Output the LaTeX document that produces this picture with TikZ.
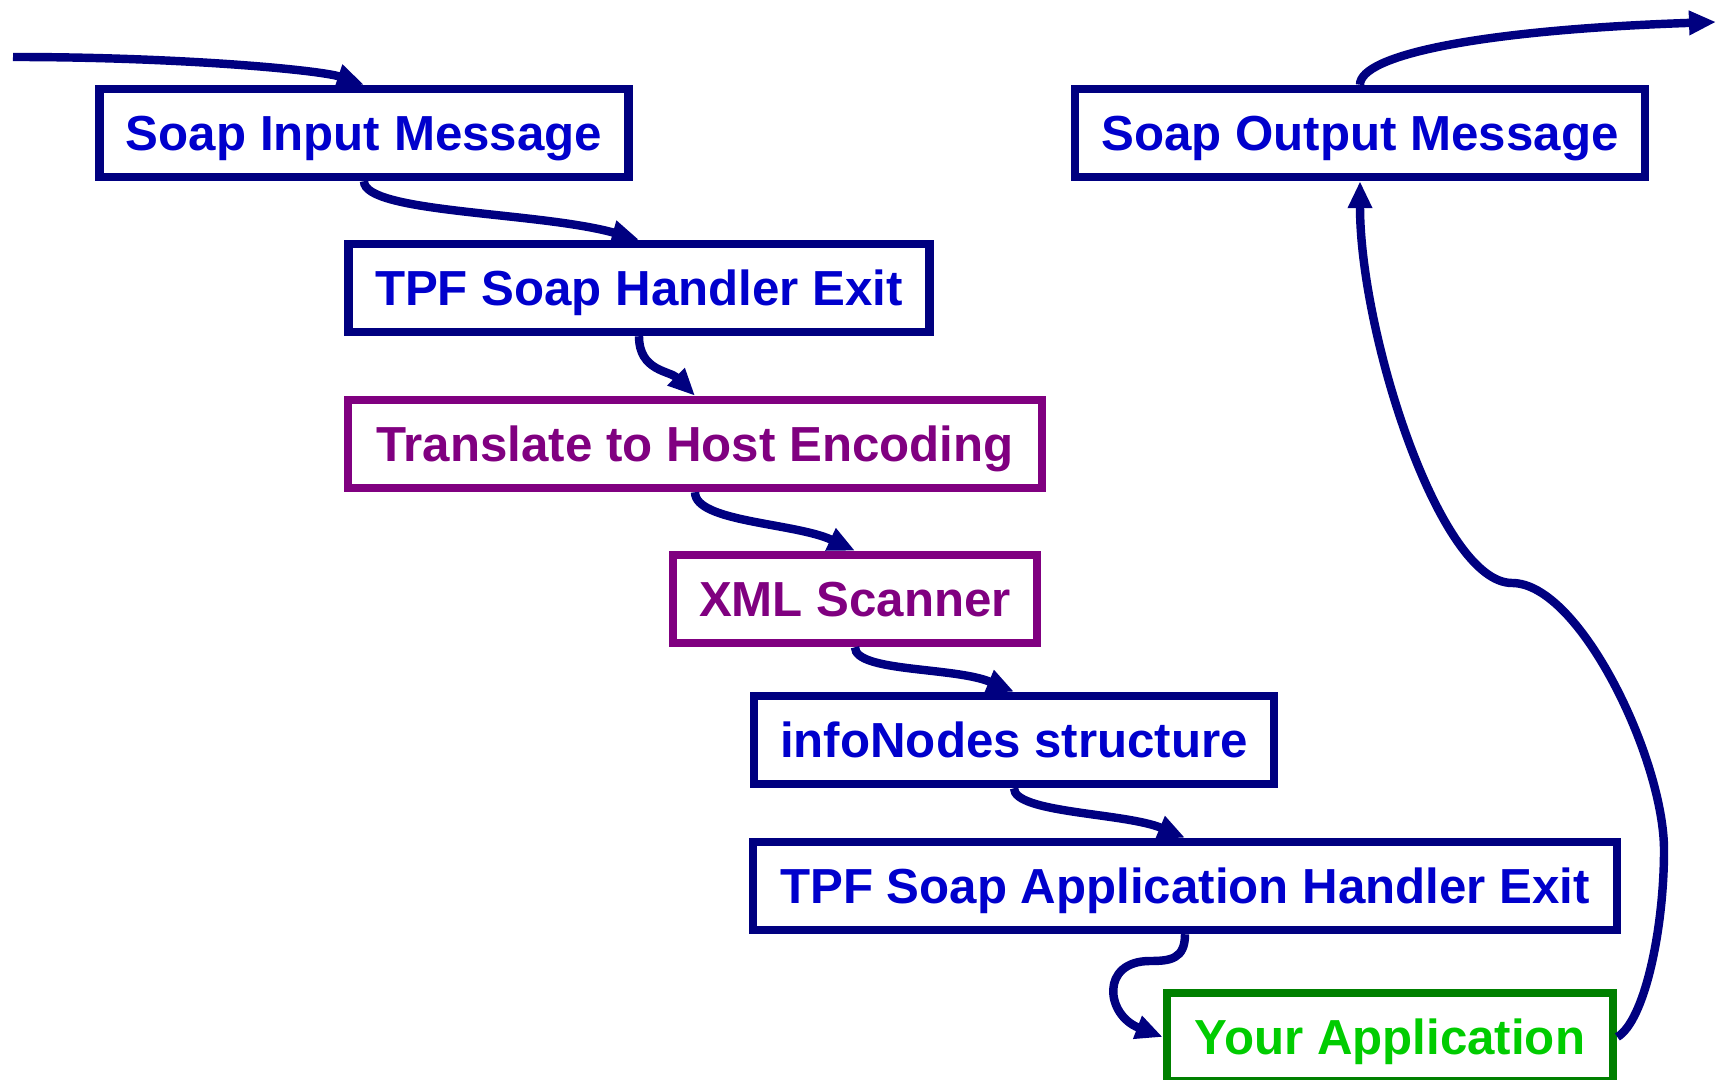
\documentclass[tikz,border=0pt]{standalone}
\usepackage{fontspec}
\setmainfont{Liberation Sans}
\usetikzlibrary{arrows.meta}

\definecolor{boxNavy}{RGB}{0,0,128}
\definecolor{textBlue}{RGB}{0,0,204}
\definecolor{hostPurple}{RGB}{128,0,128}
\definecolor{appGreen}{RGB}{0,128,0}
\definecolor{appText}{RGB}{0,204,0}

\begin{document}
\begin{tikzpicture}[x=0.01cm,y=-0.01cm,
  stepBox/.style={draw=boxNavy,line width=2.4pt,text=textBlue,minimum height=0.88cm,inner sep=0pt,text depth=0pt,font=\bfseries\fontsize{14}{16}\selectfont},
  hostBox/.style={stepBox,draw=hostPurple,text=hostPurple},
  appBox/.style={stepBox,draw=appGreen,text=appText},
  flow/.style={draw=boxNavy,line width=2.4pt,-{Triangle[length=2.7mm,width=2.3mm]}}]

 \useasboundingbox (0,0) rectangle (1718,1080);

 %Coordinates
 \coordinate (inStart) at (13,57);
 \coordinate (outEnd) at (1716,22);
 \coordinate (appLoop) at (1150,961);
 \coordinate (rightBend) at (1664,850);
 \coordinate (backDip) at (1512,583);

 %Boxes
 \node (inputMsg) [stepBox, minimum width=5.29cm] at (364,133) {Soap Input Message};
 \node (soapExit) [stepBox, minimum width=5.81cm] at (639,288) {TPF Soap Handler Exit};
 \node (translate) [hostBox, minimum width=6.94cm] at (695,444) {Translate to Host Encoding};
 \node (scanner) [hostBox, minimum width=3.64cm] at (855,599) {XML Scanner};
 \node (infoNodes) [stepBox, minimum width=5.20cm] at (1014,740) {infoNodes structure};
 \node (appExit) [stepBox, minimum width=8.63cm] at (1185,886) {TPF Soap Application Handler Exit};
 \node (yourApp) [appBox, minimum width=4.46cm] at (1390,1037) {Your Application};
 \node (outputMsg) [stepBox, minimum width=5.70cm] at (1360,133) {Soap Output Message};

 %Input and output
 \draw[flow] (inStart) .. controls (180,57) and (320,70) .. (inputMsg.north);
 \draw[flow] (outputMsg.north) .. controls (1360,55) and (1480,30) .. (outEnd);

 %Down the chain
 \draw[flow] (inputMsg.south) .. controls +(0,32) and +(-100,-28) .. (soapExit.north);
 \draw[flow] (soapExit.south) .. controls +(0,35) and +(-25,-25) .. (translate.north);
 \draw[flow] (translate.south) .. controls +(0,30) and +(-60,-28) .. (scanner.north);
 \draw[flow] (scanner.south) .. controls +(0,25) and +(-60,-25) .. (infoNodes.north);
 \draw[flow] (infoNodes.south) .. controls +(0,25) and +(-60,-25) .. (appExit.north);
 \draw[flow] (appExit.south) .. controls +(0,25) and +(20,0) .. (appLoop)
   .. controls +(-50,0) and +(-57,-22) .. (yourApp.west);

 %Back up to the output
 \draw[flow] (yourApp.east) .. controls +(27,-16) and +(0,80) .. (rightBend)
   .. controls +(0,-90) and +(68,0) .. (backDip)
   .. controls +(-72,0) and +(0,153) .. (outputMsg.south);

\end{tikzpicture}
\end{document}
